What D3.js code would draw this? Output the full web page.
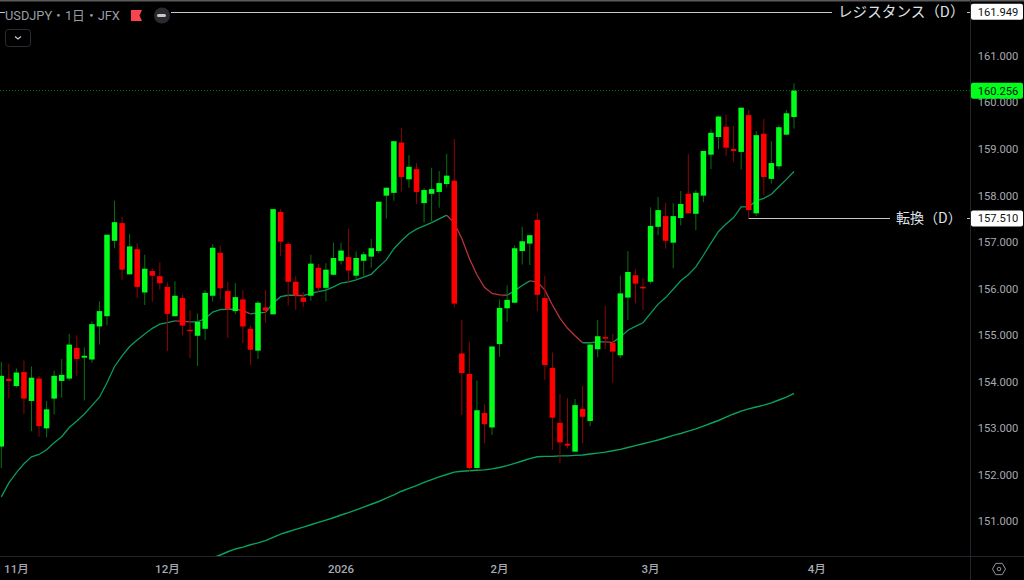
<!DOCTYPE html>
<html>
<head>
<meta charset="utf-8">
<script src="https://cdn.jsdelivr.net/npm/d3@7"></script>
<style>
    html, body { margin: 0; padding: 0; background: #000; overflow: hidden; }
    svg { display: block; }
</style>
</head>
<body>
<div id="chart"></div>
<script>
// prices, one candle per trading day
const opens = [
    152.61,154.06,153.91,154.21,153.59,154.07,153.00,153.64,154.02,154.07,
    154.73,154.52,154.48,155.19,155.41,157.03,157.41,156.31,156.85,155.92,
    156.38,156.27,156.04,155.41,155.80,155.12,154.99,155.14,155.85,156.77,
    155.95,155.52,155.77,155.14,154.67,155.60,155.45,157.65,156.96,156.15,
    155.81,155.85,156.45,156.02,156.30,156.60,156.68,156.28,156.60,156.69,
    156.81,158.00,158.06,159.14,158.35,158.57,157.84,158.04,158.08,158.25,
    158.32,154.61,154.17,152.15,153.33,153.02,154.81,155.58,155.70,156.81,
    156.97,157.48,155.80,154.30,153.12,152.67,152.50,153.42,153.16,154.70,
    154.96,154.84,154.57,155.81,156.29,156.04,156.15,157.33,157.56,156.99,
    157.52,158.04,157.61,158.00,158.88,159.26,159.48,159.00,158.94,159.73,
    157.62,159.33,158.36,158.63,159.31,159.69
];
const highs = [
    154.43,154.39,154.29,154.46,154.33,154.13,153.59,154.24,154.49,155.03,
    155.00,154.74,155.30,155.73,157.16,157.89,157.54,157.18,156.98,156.73,
    156.44,156.57,156.14,156.16,155.87,155.54,155.47,155.97,156.96,156.93,
    156.15,156.12,155.97,155.21,155.74,155.97,157.71,157.71,157.01,156.27,
    155.93,156.73,156.53,156.55,156.99,156.99,157.29,156.80,156.79,157.07,
    157.87,158.18,159.17,159.45,158.87,158.70,158.16,158.60,158.53,158.90,
    159.22,155.33,154.86,154.03,153.52,154.76,155.77,156.07,156.93,157.33,
    157.15,157.64,156.28,154.63,153.74,153.65,153.63,153.91,154.86,155.33,
    155.63,155.03,156.28,156.81,156.42,156.23,157.75,157.97,157.85,157.84,
    158.10,158.89,158.12,158.96,159.42,159.71,159.74,159.50,159.89,159.84,
    159.39,159.65,159.17,159.51,159.84,160.41
];
const lows = [
    152.15,153.64,153.88,153.31,152.94,152.82,152.81,153.30,153.66,154.03,
    154.13,153.60,154.41,154.80,155.21,156.87,156.19,156.30,155.80,155.65,
    155.72,155.98,154.66,155.40,155.00,154.51,154.34,154.90,155.73,155.77,
    154.94,155.45,154.83,154.36,154.49,155.27,155.45,156.70,155.64,155.55,
    155.61,155.74,155.92,155.73,156.29,156.52,156.12,156.20,156.28,156.45,
    156.76,157.51,157.89,158.09,158.17,157.82,157.42,157.45,157.74,158.18,
    155.60,153.29,152.07,152.15,152.68,152.86,154.54,155.29,155.69,156.52,
    156.51,155.52,154.04,152.54,152.25,152.57,152.50,152.68,153.05,154.53,
    154.70,153.98,154.51,155.33,155.69,155.54,156.11,157.15,156.86,156.44,
    157.36,157.62,157.26,157.86,158.57,159.00,158.85,158.72,158.56,157.51,
    157.56,158.01,158.26,158.56,159.30,159.44
];
const closes = [
    154.13,154.02,154.20,153.64,154.09,153.05,153.41,154.13,154.15,154.80,
    154.49,154.56,155.24,155.52,157.16,157.43,156.41,156.91,156.04,156.43,
    156.28,156.12,155.46,155.85,155.21,155.10,155.29,155.91,156.88,156.01,
    155.56,155.82,155.19,154.69,155.70,155.53,157.71,157.01,156.15,155.86,
    155.72,156.54,156.02,156.41,156.66,156.82,156.39,156.66,156.74,156.87,
    157.87,158.17,159.17,158.40,158.62,158.08,158.12,158.14,158.27,158.43,
    155.68,154.19,152.15,153.39,153.09,154.76,155.59,155.76,156.87,157.02,
    157.15,155.87,154.36,153.23,152.70,152.63,153.50,153.25,154.80,154.98,
    154.93,154.65,155.90,156.36,156.11,156.02,157.35,157.69,157.03,157.56,
    157.82,157.62,158.06,158.96,159.35,159.70,159.03,158.96,159.89,157.69,
    159.30,158.40,158.70,159.47,159.77,160.256
];
// short moving average, one value per candle
const maShort = [
    151.53,151.83,152.05,152.24,152.39,152.44,152.54,152.69,152.82,153.02,
    153.16,153.31,153.49,153.67,153.98,154.33,154.56,154.76,154.90,155.03,
    155.15,155.24,155.27,155.31,155.30,155.29,155.29,155.36,155.50,155.55,
    155.56,155.56,155.53,155.46,155.48,155.49,155.69,155.83,155.86,155.86,
    155.85,155.90,155.94,155.97,156.04,156.12,156.15,156.19,156.25,156.31,
    156.47,156.62,156.86,157.03,157.18,157.28,157.35,157.42,157.50,157.58,
    157.41,157.08,156.65,156.30,156.03,155.90,155.87,155.86,155.96,156.07,
    156.17,156.15,155.97,155.65,155.37,155.15,154.99,154.84,154.84,154.86,
    154.86,154.85,154.96,155.11,155.19,155.27,155.47,155.67,155.81,155.99,
    156.17,156.30,156.47,156.72,156.98,157.23,157.39,157.53,157.76,157.76,
    157.89,157.94,158.03,158.19,158.35,158.52
];
// long moving average, enters the chart at candle 28
const maLongStart = 28;
const maLong = [
    150.22,150.28,150.35,150.41,150.45,150.50,150.54,150.59,150.66,150.73,
    150.78,150.83,150.88,150.93,150.98,151.03,151.08,151.14,151.19,151.25,
    151.31,151.37,151.43,151.50,151.57,151.65,151.71,151.77,151.84,151.90,
    151.96,152.01,152.06,152.08,152.09,152.10,152.11,152.13,152.16,152.20,
    152.25,152.30,152.35,152.39,152.40,152.40,152.41,152.41,152.42,152.43,
    152.45,152.47,152.49,152.52,152.55,152.59,152.63,152.67,152.71,152.75,
    152.80,152.85,152.89,152.94,152.99,153.05,153.11,153.17,153.24,153.31,
    153.37,153.42,153.46,153.50,153.55,153.61,153.67,153.75
];

const priceTicks = [161,160,159,158,157,156,155,154,153,152,151];
const monthTicks = [2,22,45,66,86,108];
const monthLabels = ["11月","12月","2026","2月","3月","4月"];

const resistance = 161.949;
const turn = 157.510;
const turnCandle = 99;
const lastPrice = 160.256;

const width = 1024, height = 580;
const axisX = 970, axisY = 556;
const uiFont = "Roboto, sans-serif";
const jpFont = "'Noto Sans CJK JP', sans-serif";

const svg = d3.select("#chart").append("svg")
    .attr("width", width)
    .attr("height", height)
    .style("background", "#000");

const x = d3.scaleLinear().domain([0, 105]).range([1.3, 794]);
const y = d3.scaleLinear().domain([151, 161]).range([521.5, 56]);

svg.append("clipPath").attr("id", "plot-clip")
    .append("rect").attr("width", axisX).attr("height", axisY);

// top strip and frame
svg.append("rect").attr("width", width).attr("height", 1.5).attr("fill", "#5a5a5a");
svg.append("line").attr("x1", 0).attr("x2", width).attr("y1", axisY + 0.5).attr("y2", axisY + 0.5)
    .attr("stroke", "#23252e");
svg.append("line").attr("x1", axisX + 0.5).attr("x2", axisX + 0.5).attr("y1", 0).attr("y2", height)
    .attr("stroke", "#23252e");

const plot = svg.append("g").attr("clip-path", "url(#plot-clip)");

// current price line
plot.append("line")
    .attr("x1", 0).attr("x2", axisX)
    .attr("y1", y(lastPrice)).attr("y2", y(lastPrice))
    .attr("stroke", "#0c7a12").attr("stroke-dasharray", "1 2");

// moving averages
const lineGen = d3.line().x(d => x(d.i)).y(d => y(d.v));

const isDown = i => maShort[i] < maShort[i - 1];
let segments = [];
maShort.forEach((v, i) => {
    if (i === 0) return;
    const last = segments[segments.length - 1];
    const point = {i: i, v: v};
    if (last && last.down === isDown(i)) {
        last.points.push(point);
    } else {
        segments.push({down: isDown(i), points: [{i: i - 1, v: maShort[i - 1]}, point]});
    }
});

plot.selectAll(".ma-short")
    .data(segments)
    .join("path")
        .attr("class", "ma-short")
        .attr("fill", "none")
        .attr("stroke", d => d.down ? "#b8323c" : "#0b9a5c")
        .attr("stroke-width", 1.3)
        .attr("d", d => lineGen(d.points));

plot.append("path")
    .attr("fill", "none")
    .attr("stroke", "#0aa35c")
    .attr("stroke-width", 1.4)
    .attr("d", lineGen(maLong.map((v, i) => ({i: i + maLongStart, v: v}))));

// candles
const candles = d3.range(closes.length);
const isUp = i => closes[i] >= opens[i];

plot.selectAll(".wick")
    .data(candles)
    .join("line")
        .attr("class", "wick")
        .attr("x1", i => x(i))
        .attr("x2", i => x(i))
        .attr("y1", i => y(highs[i]))
        .attr("y2", i => y(lows[i]))
        .attr("stroke", i => isUp(i) ? "#0a7010" : "#8c0505");

plot.selectAll(".body")
    .data(candles)
    .join("rect")
        .attr("class", "body")
        .attr("x", i => x(i) - 2.75)
        .attr("width", 5.5)
        .attr("y", i => y(Math.max(opens[i], closes[i])))
        .attr("height", i => Math.max(1.5, Math.abs(y(opens[i]) - y(closes[i]))))
        .attr("fill", i => isUp(i) ? "#00ff1a" : "#ff0000");

// hand drawn level lines
const levelLine = (x1, x2, price) => svg.append("line")
    .attr("x1", x1).attr("x2", x2)
    .attr("y1", Math.round(y(price)) + 0.5).attr("y2", Math.round(y(price)) + 0.5)
    .attr("stroke", "#c8c8c8");

levelLine(0, 832, resistance);
levelLine(967, axisX, resistance);
levelLine(x(turnCandle), 890, turn);
levelLine(967, axisX, turn);

const levelLabel = (tx, price, txt, size) => svg.append("text")
    .attr("x", tx).attr("y", y(price))
    .attr("dy", "0.35em")
    .attr("font-family", jpFont)
    .attr("font-size", size)
    .attr("fill", "#dfe1e6")
    .text(txt);

levelLabel(838, resistance, "レジスタンス（D）", 14.6);
levelLabel(896, turn, "転換（D）", 14);

// price axis
svg.selectAll(".tick-label")
    .data(priceTicks)
    .join("text")
        .attr("class", "tick-label")
        .attr("x", 998)
        .attr("y", d => y(d))
        .attr("dy", "0.35em")
        .attr("text-anchor", "middle")
        .attr("font-family", uiFont)
        .attr("font-size", 11.2)
        .attr("fill", "#a6a9b2")
        .text(d => d3.format(".3f")(d));

const priceBadge = (price, fill) => {
    const g = svg.append("g").attr("transform", `translate(971,${y(price) - 8})`);
    g.append("rect").attr("width", 52).attr("height", 16).attr("rx", 2).attr("fill", fill);
    g.append("text")
        .attr("x", 27).attr("y", 8).attr("dy", "0.35em")
        .attr("text-anchor", "middle")
        .attr("font-family", uiFont)
        .attr("font-size", 11.2)
        .attr("fill", "#111")
        .text(d3.format(".3f")(price));
};
priceBadge(resistance, "#ffffff");
priceBadge(lastPrice, "#00ff1a");
priceBadge(turn, "#ffffff");

// time axis
svg.selectAll(".month-label")
    .data(monthTicks)
    .join("text")
        .attr("class", "month-label")
        .attr("x", d => x(d))
        .attr("y", 569)
        .attr("dy", "0.35em")
        .attr("text-anchor", "middle")
        .attr("font-family", "Roboto, 'Noto Sans CJK JP', sans-serif")
        .attr("font-size", 11.5)
        .attr("font-weight", 500)
        .attr("fill", "#a6a9b2")
        .text((d, i) => monthLabels[i]);

// settings icon
const gear = svg.append("g").attr("transform", "translate(999,569)")
    .attr("fill", "none").attr("stroke", "#8f929b");
const hexPoints = d3.range(6).map(k => {
    const a = Math.PI / 3 * k;
    return [6.5 * Math.cos(a), 6.5 * Math.sin(a)];
});
gear.append("path").attr("d", d3.line()(hexPoints) + "Z");
gear.append("circle").attr("r", 1.8);

// header
const header = svg.append("g");
header.append("rect").attr("x", 5).attr("y", 6).attr("width", 166).attr("height", 20).attr("fill", "#000");
header.append("text")
    .attr("x", 5).attr("y", 16)
    .attr("dy", "0.35em")
    .attr("font-family", "Roboto, 'Noto Sans CJK JP', sans-serif")
    .attr("font-size", 12.8)
    .attr("fill", "#9a9da6")
    .text("USDJPY・1日・JFX");
header.append("path")
    .attr("d", "M131,10H142L139.5,15.5L142,21H131Z")
    .attr("fill", "#f7444e");
header.append("circle").attr("cx", 162).attr("cy", 15.5).attr("r", 8).attr("fill", "#2b2b2f");
header.append("rect").attr("x", 157).attr("y", 14).attr("width", 9).attr("height", 3).attr("rx", 1.5).attr("fill", "#c8c8cc");

// collapse button
header.append("rect")
    .attr("x", 5.5).attr("y", 29.5).attr("width", 25).attr("height", 17).attr("rx", 3)
    .attr("fill", "none").attr("stroke", "#2b2d35");
header.append("path")
    .attr("d", "M15,36.5L18,39L21,36.5")
    .attr("fill", "none").attr("stroke", "#c8c8cc").attr("stroke-width", 1.2);
</script>
</body>
</html>
